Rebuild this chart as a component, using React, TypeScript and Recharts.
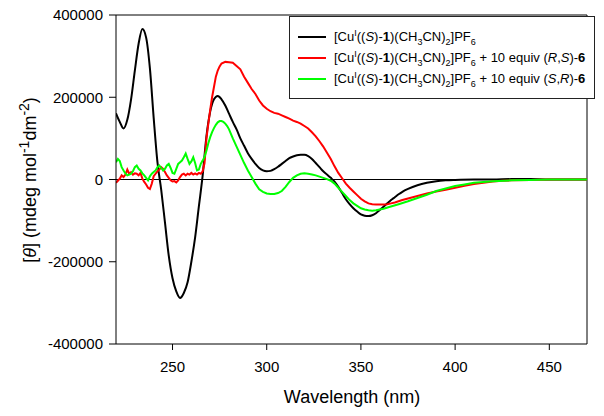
import React from 'react';
import {
  LineChart,
  Line,
  XAxis,
  YAxis,
  ReferenceLine,
  Legend,
} from 'recharts';

// [wavelength nm, theta in 10^3 mdeg mol-1 dm-2]
const blackCurve: [number, number][] = [
  [220, 161], [222, 140], [224, 124], [226, 145], [228, 195], [230, 265], [232, 330],
  [234, 366], [236, 345], [238, 270], [240, 150], [242, 42], [244, -25], [246, -105],
  [248, -185], [250, -240], [252, -272], [254, -288], [256, -276], [258, -250], [260, -200],
  [262, -141], [264, -65], [266, 10], [268, 105], [270, 165], [272, 195], [274, 203],
  [276, 195], [278, 180], [280, 160], [282, 140], [284, 122], [286, 100], [288, 82],
  [290, 64], [292, 50], [294, 38], [296, 28], [298, 22], [300, 20], [302, 21], [304, 25],
  [306, 31], [308, 38], [310, 45], [312, 52], [314, 56], [316, 59], [318, 60], [320, 60],
  [322, 57], [324, 50], [326, 40], [328, 30], [330, 20], [332, 12], [334, 4], [336, -5],
  [338, -18], [340, -33], [342, -48], [344, -60], [346, -70], [348, -78], [350, -85],
  [352, -88], [354, -89], [356, -87], [358, -82], [360, -74], [362, -66], [364, -58],
  [366, -50], [368, -43], [370, -36], [372, -30], [375, -23], [380, -14], [385, -8],
  [390, -4], [395, -2], [400, -1], [410, 0], [420, 0], [430, 1], [440, 1], [450, 0],
  [460, 0], [470, 0],
];

const redCurve: [number, number][] = [
  [220, -8], [221, -3], [222, 2], [223, 10], [224, 6], [225, 12], [226, 24], [227, 14],
  [228, 18], [229, 12], [230, 15], [231, 14], [232, 10], [233, 16], [234, 2], [235, -6],
  [236, -12], [237, -20], [238, -23], [239, -10], [240, 8], [241, 14], [242, 20], [243, 24],
  [244, 30], [245, 26], [246, 18], [247, 10], [248, 4], [249, -2], [250, -5], [251, -4],
  [252, -7], [253, -2], [254, 6], [255, 12], [256, 14], [257, 10], [258, 14], [259, 12],
  [260, 16], [261, 12], [262, 15], [263, 12], [264, 16], [265, 14], [266, 20], [267, 40],
  [268, 100], [269, 135], [270, 170], [271, 200], [272, 225], [273, 250], [274, 265],
  [275, 275], [276, 282], [278, 286], [280, 285], [282, 284], [284, 276], [286, 268],
  [288, 250], [290, 235], [292, 220], [294, 208], [296, 192], [298, 180], [300, 172],
  [302, 166], [304, 162], [306, 160], [308, 156], [310, 152], [312, 148], [314, 143],
  [316, 140], [318, 136], [320, 130], [322, 124], [324, 115], [326, 105], [328, 93],
  [330, 80], [332, 65], [334, 50], [336, 32], [338, 16], [340, 3], [342, -10], [344, -20],
  [346, -29], [348, -38], [350, -47], [352, -53], [354, -58], [356, -60], [358, -61],
  [360, -61], [362, -61], [364, -60], [366, -58], [368, -56], [370, -53], [372, -50],
  [375, -46], [380, -40], [385, -34], [390, -29], [395, -25], [400, -20], [405, -15],
  [410, -11], [415, -8], [420, -5], [425, -3], [430, -2], [440, -1], [450, 0], [460, 0],
  [470, 0],
];

const greenCurve: [number, number][] = [
  [220, 42], [221, 50], [222, 45], [223, 30], [224, 22], [225, 15], [226, 10], [227, 12],
  [228, 14], [229, 20], [230, 30], [231, 34], [232, 26], [233, 22], [234, 15], [235, 10],
  [236, 4], [237, -2], [238, 8], [239, 14], [240, 18], [241, 22], [242, 30], [243, 34],
  [244, 28], [245, 22], [246, 26], [247, 34], [248, 38], [249, 28], [250, 16], [251, 14],
  [252, 26], [253, 38], [254, 42], [255, 46], [256, 54], [257, 63], [258, 50], [259, 38],
  [260, 44], [261, 54], [262, 40], [263, 22], [264, 24], [265, 38], [266, 46], [267, 55],
  [268, 70], [269, 88], [270, 103], [271, 115], [272, 125], [273, 133], [274, 139],
  [275, 142], [276, 142], [277, 140], [278, 136], [279, 130], [280, 122], [282, 100],
  [284, 80], [286, 60], [288, 40], [290, 22], [292, 6], [294, -10], [296, -24], [298, -30],
  [300, -34], [302, -35], [304, -35], [306, -33], [308, -28], [310, -18], [312, -6],
  [314, 4], [316, 10], [318, 14], [320, 15], [322, 14], [324, 12], [326, 10], [328, 7],
  [330, 4], [332, 1], [334, -3], [336, -10], [338, -20], [340, -30], [342, -40],
  [344, -50], [346, -58], [348, -64], [350, -70], [352, -73], [354, -75], [356, -76],
  [358, -75], [360, -73], [362, -71], [365, -67], [370, -60], [375, -53], [380, -45],
  [385, -37], [390, -28], [395, -22], [400, -16], [405, -12], [410, -8], [415, -6],
  [420, -4], [430, -2], [440, -1], [450, 0], [460, 0], [470, 0],
];

const xTicks = [250, 300, 350, 400, 450];
const yTicks = [-400000, -200000, 0, 200000, 400000];

const FONT = '"Liberation Sans", Arial, sans-serif';

const toRows = (curve: [number, number][]) =>
  curve.map(([wl, t]) => ({ wl, theta: t * 1000 }));

const sub = { fontSize: 9, verticalAlign: 'sub', lineHeight: 0 } as const;
const sup = { fontSize: 9, verticalAlign: 'super', lineHeight: 0 } as const;

const Complex = () => (
  <>
    [Cu<span style={sup}>I</span>((<i>S</i>)-<b>1</b>)(CH<span style={sub}>3</span>CN)
    <span style={sub}>2</span>]PF<span style={sub}>6</span>
  </>
);

const legendRows = [
  { color: '#000000', extra: null },
  { color: '#ff0000', extra: <> + 10 equiv (<i>R</i>,<i>S</i>)-<b>6</b></> },
  { color: '#00ff00', extra: <> + 10 equiv (<i>S</i>,<i>R</i>)-<b>6</b></> },
];

const LegendBox = () => (
  <div
    style={{
      width: 304,
      height: 72,
      border: '1px solid #222',
      background: '#fff',
      fontFamily: FONT,
      fontSize: 13,
      color: '#000',
      boxSizing: 'content-box',
      paddingTop: 9,
    }}
  >
    {legendRows.map((r, i) => (
      <div key={i} style={{ display: 'flex', alignItems: 'center', height: 21 }}>
        <div style={{ width: 28, height: 2, background: r.color, marginLeft: 8, marginRight: 8 }} />
        <span style={{ whiteSpace: 'nowrap' }}>
          <Complex />
          {r.extra}
        </span>
      </div>
    ))}
  </div>
);

export default function App() {
  return (
    <div style={{ position: 'absolute', left: 0, top: 0, width: 604, height: 416, background: '#fff' }}>
      <LineChart
        width={604}
        height={416}
        margin={{ top: 15, right: 17, left: 16, bottom: 22 }}
      >
        <XAxis
          type='number'
          dataKey='wl'
          domain={[220, 470]}
          ticks={xTicks}
          allowDataOverflow
          height={50}
          tickSize={6}
          tickMargin={11}
          stroke='#000'
          tick={{ fill: '#000', fontSize: 15, fontFamily: FONT }}
        />
        <YAxis
          type='number'
          domain={[-400000, 400000]}
          ticks={yTicks}
          width={100}
          tickSize={7}
          tickMargin={6}
          stroke='#000'
          tick={{ fill: '#000', fontSize: 15, fontFamily: FONT }}
        />
        <ReferenceLine y={400000} stroke='#000' />
        <ReferenceLine x={470} stroke='#000' />
        <ReferenceLine y={0} stroke='#000' />
        <Line data={toRows(blackCurve)} dataKey='theta' type='monotone' stroke='#000000' strokeWidth={2} dot={false} isAnimationActive={false} />
        <Line data={toRows(redCurve)} dataKey='theta' type='linear' stroke='#ff0000' strokeWidth={2} dot={false} isAnimationActive={false} />
        <Line data={toRows(greenCurve)} dataKey='theta' type='linear' stroke='#00ff00' strokeWidth={2} dot={false} isAnimationActive={false} />
        <Legend
          layout='horizontal'
          verticalAlign='middle'
          align='center'
          content={() => <LegendBox />}
          wrapperStyle={{ top: 16, left: 289, width: 306 }}
        />
      </LineChart>
      <div
        style={{
          position: 'absolute',
          left: 30,
          top: 180,
          transform: 'translate(-50%, -50%) rotate(-90deg)',
          whiteSpace: 'nowrap',
          fontFamily: FONT,
          fontSize: 18,
          lineHeight: 1,
        }}
      >
        [<i>θ</i>] (mdeg mol<span style={{ fontSize: 14, verticalAlign: 'super', lineHeight: 0 }}>-1</span>dm
        <span style={{ fontSize: 14, verticalAlign: 'super', lineHeight: 0 }}>-2</span>)
      </div>
      <div
        style={{
          position: 'absolute',
          left: 352,
          top: 388,
          transform: 'translateX(-50%)',
          whiteSpace: 'nowrap',
          fontFamily: FONT,
          fontSize: 18,
          lineHeight: 1,
        }}
      >
        Wavelength (nm)
      </div>
    </div>
  );
}
